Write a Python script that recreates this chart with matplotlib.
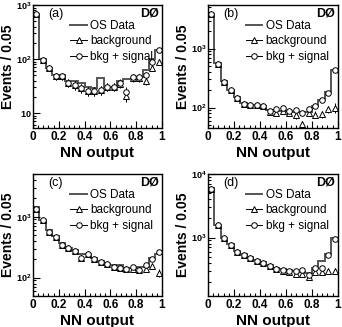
import numpy as np
import matplotlib
matplotlib.use("Agg")
import matplotlib.pyplot as plt
from matplotlib.ticker import MultipleLocator, LogLocator, FuncFormatter, NullFormatter
from matplotlib.lines import Line2D

plt.rcParams["font.family"] = ["Liberation Sans", "DejaVu Sans"]
plt.rcParams["mathtext.fontset"] = "custom"
plt.rcParams["mathtext.rm"] = "Liberation Sans:bold"
plt.rcParams["mathtext.bf"] = "Liberation Sans:bold"
plt.rcParams["mathtext.default"] = "rm"

# NN output bins (20 bins of 0.05)
bin_edges = np.linspace(0, 1, 21)
bin_centers = (bin_edges[:-1] + bin_edges[1:]) / 2

# panel (a)
data_a = [680, 100, 68, 50, 50, 40, 40, 36, 31, 29, 45, 30, 30, 40, 43, 43, 46, 63, 100, 147]
sig_a = [680, 95, 68, 48, 48, 36, 33, 29, 26, 26, 27, 31, 31, 36, 25, 47, 47, 50, 89, 150]
bkg_a = [680, 95, 68, 48, 48, 36, 33, 29, 26, 26, 27, 31, 31, 35, 21, 45, 45, 40, 68, 90]
err_a = [26, 10, 8, 7, 7, 6, 6, 5.5, 5, 5, 5, 5.5, 5.5, 6, 5, 7, 7, 7, 9, 12]

# panel (b)
data_b = [3900, 560, 280, 200, 150, 120, 112, 110, 105, 92, 88, 88, 86, 84, 84, 84, 105, 135, 185, 430]
sig_b = [3800, 540, 270, 195, 147, 116, 110, 110, 105, 88, 95, 100, 88, 90, 80, 95, 108, 135, 180, 430]
bkg_b = [3800, 540, 270, 195, 147, 116, 110, 110, 105, 85, 82, 86, 80, 74, 52, 82, 76, 78, 95, 100]
err_b = [60, 23, 16, 14, 12, 11, 10, 10, 10, 9, 9, 9, 9, 9, 8, 9, 10, 11, 13, 20]

# panel (c)
data_c = [1450, 870, 600, 480, 365, 305, 280, 240, 245, 210, 186, 170, 164, 164, 145, 145, 150, 150, 210, 245]
sig_c = [1350, 870, 570, 470, 345, 305, 270, 210, 245, 205, 182, 170, 150, 145, 140, 150, 135, 164, 205, 260]
bkg_c = [1350, 870, 570, 470, 345, 305, 270, 210, 245, 205, 182, 170, 150, 145, 140, 140, 135, 140, 155, 120]
err_c = [37, 30, 24, 22, 19, 17, 16, 15, 16, 14, 13, 13, 12, 12, 12, 12, 12, 12, 14, 16]

# panel (d)
data_d = [6000, 1600, 1000, 780, 620, 550, 490, 435, 410, 370, 330, 315, 305, 300, 290, 280, 330, 420, 550, 980]
sig_d = [5800, 1550, 980, 760, 600, 530, 470, 420, 400, 350, 320, 310, 300, 300, 310, 260, 330, 330, 540, 960]
bkg_d = [5800, 1550, 980, 760, 600, 530, 470, 420, 400, 350, 320, 300, 290, 270, 270, 235, 290, 285, 300, 300]
err_d = [76, 39, 31, 28, 25, 23, 22, 21, 20, 19, 18, 18, 17, 17, 17, 16, 18, 20, 23, 31]

panels = [
    ("(a)", data_a, sig_a, bkg_a, err_a, (5.3, 1000), [0.0965, 0.6086, 0.377, 0.376]),
    ("(b)", data_b, sig_b, bkg_b, err_b, (45, 5500), [0.608, 0.6086, 0.380, 0.376]),
    ("(c)", data_c, sig_c, bkg_c, err_c, (50, 5000), [0.0965, 0.0948, 0.377, 0.373]),
    ("(d)", data_d, sig_d, bkg_d, err_d, (120, 10000), [0.608, 0.0948, 0.380, 0.373]),
]


def log_label(v, pos):
    n = int(round(np.log10(v)))
    if n == 1:
        return "$10$"
    return "$10^{%d}$" % n


fig = plt.figure(figsize=(3.42, 3.27), dpi=100)

for tag, data, sig, bkg, err, ylim, rect in panels:
    ax = fig.add_axes(rect)
    ax.stairs(data, bin_edges, color="#555555", lw=1.4, baseline=None)
    ax.errorbar(bin_centers, bkg, yerr=err, fmt="^", ms=4, mfc="white", mec="black",
                mew=0.7, ecolor="black", elinewidth=0.7, capsize=0)
    ax.errorbar(bin_centers, sig, yerr=err, fmt="o", ms=4, mfc="white", mec="black",
                mew=0.7, ecolor="black", elinewidth=0.7, capsize=0)
    ax.set_yscale("log")
    ax.set_xlim(0, 1)
    ax.set_ylim(*ylim)
    ax.xaxis.set_major_locator(MultipleLocator(0.2))
    ax.xaxis.set_minor_locator(MultipleLocator(0.04))
    ax.xaxis.set_major_formatter(FuncFormatter(lambda v, p: "%g" % round(v, 2)))
    ax.yaxis.set_major_locator(LogLocator(base=10, numticks=10))
    ax.yaxis.set_minor_locator(LogLocator(base=10, subs=np.arange(2, 10), numticks=20))
    ax.yaxis.set_major_formatter(FuncFormatter(log_label))
    ax.yaxis.set_minor_formatter(NullFormatter())
    ax.tick_params(which="both", direction="in", top=False, right=False, width=0.8)
    ax.tick_params(which="major", length=5)
    ax.tick_params(which="minor", length=2.5)
    ax.tick_params(axis="x", labelsize=8.5, pad=2)
    ax.tick_params(axis="y", labelsize=6.5, pad=1)
    for lab in ax.get_xticklabels():
        lab.set_fontweight("bold")
    for s in ax.spines.values():
        s.set_linewidth(1.0)
    ax.set_xlabel("NN output", fontsize=11, fontweight="bold")
    ax.xaxis.set_label_coords(0.5, -0.145)
    ax.xaxis.label.set_va("top")
    ax.set_ylabel("Events / 0.05", fontsize=10, fontweight="bold")
    ax.yaxis.set_label_coords(-0.14, 0.5)
    ax.text(0.12, 0.93, tag, transform=ax.transAxes, fontsize=9, va="center")
    ax.text(0.98, 0.93, "DØ", transform=ax.transAxes, fontsize=9, fontweight="bold",
            va="center", ha="right")
    handles = [
        Line2D([], [], color="#555555", lw=1.4),
        Line2D([], [], color="black", lw=0.7, marker="^", ms=4, mfc="white", mec="black", mew=0.7),
        Line2D([], [], color="black", lw=0.7, marker="o", ms=4, mfc="white", mec="black", mew=0.7),
    ]
    ax.legend(handles, ["OS Data", "background", "bkg + signal"], loc="upper left",
              bbox_to_anchor=(0.29, 0.88), frameon=False, fontsize=8.5,
              handlelength=1.4, handletextpad=0.3, labelspacing=0.3, borderaxespad=0,
              borderpad=0)

fig.savefig("out.png", dpi=100)
